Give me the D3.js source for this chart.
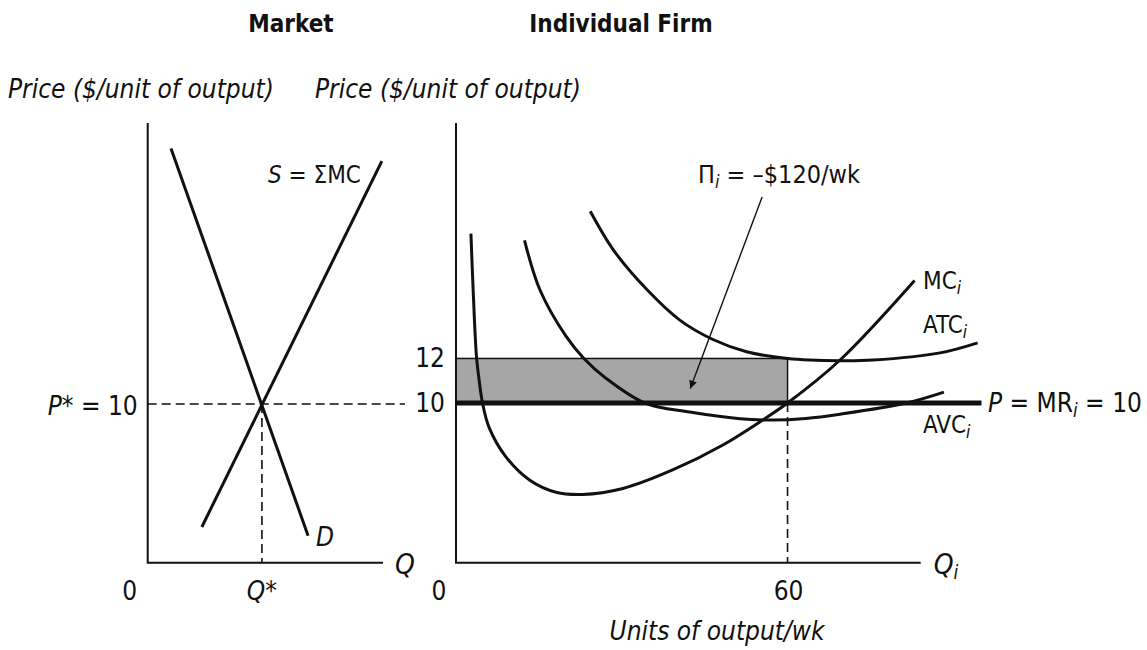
<!DOCTYPE html>
<html>
<head>
<meta charset="utf-8">
<script src="https://cdn.jsdelivr.net/npm/d3@7"></script>
<style>
  html, body { margin: 0; padding: 0; background: #fff; }
  svg text { font-family: 'Liberation Sans Narrow', 'DejaVu Sans Condensed', 'Open Sans', sans-serif; fill: #111; }
</style>
</head>
<body>
<svg id="chart" width="1147" height="650"></svg>
<script>
// ---------- DATA ----------
// Market panel (quantity, price)
const demandPts = [[10.2, 26.1], [70.2, 1.7]];
const supplyPts = [[23.7, 2.25], [102.5, 25.3]];
const marketEq = [50, 10];            // [Q*, P*]
const marketTickLabels = ["0", "Q*"];

// Individual firm panel (output, price)
const mcPts = [[2.7, 17.6], [3.1, 15.1], [3.7, 12.1], [4.2, 11.0], [4.8, 10.0], [6.0, 8.9], [9.0, 7.6],
  [13.3, 6.55], [18.1, 6.0], [22.9, 5.9], [30.2, 6.17], [39.2, 7.0], [48.3, 8.12], [55.5, 9.24],
  [60, 10], [69.5, 11.93], [83.0, 15.5]];
const avcPts = [[12.4, 17.3], [15.2, 15.07], [19.9, 13.0], [23.15, 12.0], [27.1, 11.12], [34.2, 10.0],
  [42.3, 9.6], [51.4, 9.3], [57.3, 9.24], [63.3, 9.31], [69.5, 9.5], [81.5, 10.0], [88.3, 10.49]];
const atcPts = [[24.3, 18.6], [28.5, 16.86], [34.5, 15.1], [40.5, 13.72], [46.5, 12.85], [52.6, 12.3],
  [60, 12.0], [69.5, 11.9], [75.5, 11.93], [87.6, 12.25], [94.4, 12.7]];
const firmPrice = 10;
const firmATCatQ = 12;
const firmQ = 60;
const priceLineEnd = 95.1;
const arrowPts = [[55.4, 19.24], [42.4, 10.65]];
const firmPriceTicks = [10, 12];
const firmQtyTicks = ["0", "60"];

// ---------- LAYOUT ----------
const svg = d3.select("#chart");
const ink = "#111";

const lx = d3.scaleLinear().domain([0, 103]).range([147.7, 383]);
const ly = d3.scaleLinear().domain([0, 27.7]).range([562.7, 123]);
const rx = d3.scaleLinear().domain([0, 84.1]).range([456, 920.7]);
const ry = d3.scaleLinear().domain([2.84, 22.56]).range([562.7, 123]);

// ---------- TITLES ----------
svg.append("text").attr("x", 291).attr("y", 32).attr("text-anchor", "middle")
  .attr("font-size", 24).attr("font-weight", "bold").text("Market");
svg.append("text").attr("x", 621).attr("y", 32).attr("text-anchor", "middle")
  .attr("font-size", 24).attr("font-weight", "bold").text("Individual Firm");

svg.append("text").attr("x", 8).attr("y", 98).attr("font-size", 26).attr("font-style", "italic")
  .text("Price ($/unit of output)");
svg.append("text").attr("x", 315).attr("y", 98).attr("font-size", 26).attr("font-style", "italic")
  .text("Price ($/unit of output)");

// ---------- MARKET PANEL ----------
const gL = svg.append("g");
gL.append("path").attr("d", `M${lx(0)},${ly.range()[1]} V${ly(0)} H${lx.range()[1]}`)
  .attr("fill", "none").attr("stroke", ink).attr("stroke-width", 2);
gL.append("line").attr("x1", lx(0)).attr("x2", rx(0) - 51).attr("y1", ly(marketEq[1])).attr("y2", ly(marketEq[1]))
  .attr("stroke", ink).attr("stroke-width", 1.6).attr("stroke-dasharray", "9,5");
gL.append("line").attr("x1", lx(marketEq[0])).attr("x2", lx(marketEq[0])).attr("y1", ly(marketEq[1])).attr("y2", ly(0))
  .attr("stroke", ink).attr("stroke-width", 1.6).attr("stroke-dasharray", "9,5");
const lineL = d3.line().x(d => lx(d[0])).y(d => ly(d[1]));
gL.append("path").attr("d", lineL(demandPts)).attr("fill", "none").attr("stroke", ink).attr("stroke-width", 3);
gL.append("path").attr("d", lineL(supplyPts)).attr("fill", "none").attr("stroke", ink).attr("stroke-width", 3);

const pStar = gL.append("text").attr("x", lx(0) - 10).attr("y", ly(marketEq[1]) + 11).attr("text-anchor", "end").attr("font-size", 26);
pStar.append("tspan").attr("font-style", "italic").text("P");
pStar.append("tspan").text("* = 10");
gL.append("text").attr("x", lx(0) - 18).attr("y", 600).attr("text-anchor", "middle").attr("font-size", 26).text(marketTickLabels[0]);
const qStar = gL.append("text").attr("x", lx(marketEq[0])).attr("y", 600).attr("text-anchor", "middle").attr("font-size", 26);
qStar.append("tspan").attr("font-style", "italic").text("Q");
qStar.append("tspan").text("*");
gL.append("text").attr("x", lx.range()[1] + 12).attr("y", ly(0) + 11).attr("font-size", 28).attr("font-style", "italic").text("Q");
gL.append("text").attr("x", lx(demandPts[1][0]) + 8).attr("y", ly(demandPts[1][1]) + 10).attr("font-size", 26).attr("font-style", "italic").text("D");
const sLab = gL.append("text").attr("x", 268).attr("y", 183).attr("font-size", 24);
sLab.append("tspan").attr("font-style", "italic").text("S");
sLab.append("tspan").text(" = ΣMC");

// ---------- FIRM PANEL ----------
const gR = svg.append("g");
gR.append("rect").attr("x", rx(0)).attr("y", ry(firmATCatQ))
  .attr("width", rx(firmQ) - rx(0)).attr("height", ry(firmPrice) - ry(firmATCatQ))
  .attr("fill", "#a6a6a6").attr("stroke", ink).attr("stroke-width", 1.5);
gR.append("line").attr("x1", rx(firmQ)).attr("x2", rx(firmQ)).attr("y1", ry(firmPrice)).attr("y2", ry.range()[0])
  .attr("stroke", ink).attr("stroke-width", 1.6).attr("stroke-dasharray", "9,5");
gR.append("path").attr("d", `M${rx(0)},${ry.range()[1]} V${ry.range()[0]} H${rx.range()[1]}`)
  .attr("fill", "none").attr("stroke", ink).attr("stroke-width", 2);

const curveR = d3.line().x(d => rx(d[0])).y(d => ry(d[1])).curve(d3.curveCatmullRom.alpha(0.5));
[mcPts, avcPts, atcPts].forEach(pts => {
  gR.append("path").attr("d", curveR(pts)).attr("fill", "none").attr("stroke", ink).attr("stroke-width", 3);
});
gR.append("line").attr("x1", rx(0)).attr("x2", rx(priceLineEnd)).attr("y1", ry(firmPrice)).attr("y2", ry(firmPrice))
  .attr("stroke", ink).attr("stroke-width", 5);

const defs = svg.append("defs");
defs.append("marker").attr("id", "ah").attr("viewBox", "0 0 10 10").attr("refX", 10).attr("refY", 5)
  .attr("markerWidth", 17).attr("markerHeight", 8).attr("markerUnits", "userSpaceOnUse").attr("orient", "auto")
  .append("path").attr("d", "M0,0 L10,5 L0,10 Z").attr("fill", ink);
gR.append("line").attr("x1", rx(arrowPts[0][0])).attr("y1", ry(arrowPts[0][1]))
  .attr("x2", rx(arrowPts[1][0])).attr("y2", ry(arrowPts[1][1]))
  .attr("stroke", ink).attr("stroke-width", 1.4).attr("marker-end", "url(#ah)");

firmPriceTicks.forEach(v => {
  gR.append("text").attr("x", rx(0) - 11).attr("y", ry(v) + 9).attr("text-anchor", "end").attr("font-size", 26).text(v);
});
gR.append("text").attr("x", rx(0) - 17).attr("y", 600).attr("text-anchor", "middle").attr("font-size", 26).text(firmQtyTicks[0]);
gR.append("text").attr("x", rx(firmQ) + 1).attr("y", 600).attr("text-anchor", "middle").attr("font-size", 26).text(firmQtyTicks[1]);
svg.append("text").attr("x", 717).attr("y", 640).attr("text-anchor", "middle").attr("font-size", 26).attr("font-style", "italic")
  .text("Units of output/wk");

function subLabel(g, x, y, parts, size) {
  const t = g.append("text").attr("x", x).attr("y", y).attr("font-size", size);
  parts.forEach(p => {
    const s = t.append("tspan").text(p.t);
    if (p.it) s.attr("font-style", "italic");
    if (p.sub) s.attr("font-size", size * 0.72).attr("dy", 5);
    if (p.up) s.attr("dy", -5);
  });
  return t;
}
const qi = gR.append("text").attr("x", rx.range()[1] + 13).attr("y", ry.range()[0] + 11).attr("font-size", 28);
qi.append("tspan").attr("font-style", "italic").text("Q");
qi.append("tspan").attr("font-style", "italic").attr("font-size", 19).attr("dy", 5).text("i");

subLabel(gR, 923, 289, [{t: "MC"}, {t: "i", it: true, sub: true}], 24);
subLabel(gR, 923, 333, [{t: "ATC"}, {t: "i", it: true, sub: true}], 24);
subLabel(gR, 923, 433, [{t: "AVC"}, {t: "i", it: true, sub: true}], 24);
subLabel(gR, 988, 412, [{t: "P", it: true}, {t: " = MR"}, {t: "i", it: true, sub: true}, {t: " = 10", up: true}], 26);
subLabel(gR, 698, 183, [{t: "Π"}, {t: "i", it: true, sub: true}, {t: " = –$120/wk", up: true}], 25);
</script>
</body>
</html>
